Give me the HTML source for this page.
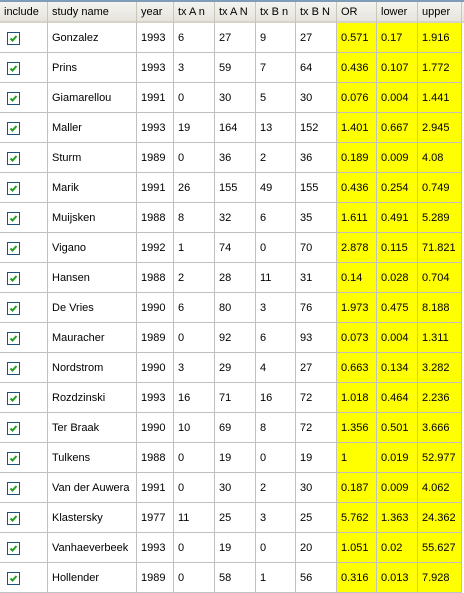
<!DOCTYPE html>
<html><head><meta charset="utf-8"><style>
html,body{margin:0;padding:0;width:464px;height:587px;overflow:hidden;background:#fff;font-family:"Liberation Sans","DejaVu Sans",sans-serif;font-size:11px;color:#000}
#wrap{position:absolute;left:0;top:0;width:464px;height:587px}
.topline{position:absolute;left:0;top:0;width:464px;height:2px;background:#7f9db9}
.hdr{position:absolute;top:2px;height:21px;background:linear-gradient(#f4f4f0,#e6e4dc);border-bottom:2px solid #d6d3c8;box-sizing:border-box}
.hc{position:absolute;top:2px;height:21px;line-height:21px;padding-left:4px;box-sizing:border-box;border-right:1px solid #c9c6ba;white-space:nowrap;overflow:hidden}
.cell{position:absolute;height:30px;line-height:31px;padding-left:4px;box-sizing:border-box;border-right:1px solid #c0c0c0;border-bottom:1px solid #c0c0c0;white-space:nowrap;overflow:hidden}
.y{background:#ffff00}
.cb{position:absolute;width:13px;height:13px;box-sizing:border-box;border:1px solid #1c5180;background:#fff}
.cb svg{position:absolute;left:1px;top:1px}
</style></head><body>
<div id="wrap">
<div class="topline"></div>
<div class="hdr" style="left:0;width:464px"></div>
<div id="grid"></div>
</div>
<script>
const headers=["include","study name","year","tx A n","tx A N","tx B n","tx B N","OR","lower","upper"];
const colX=[0,48,137,174,215,256,296,337,377,418,462];
const studies=["Gonzalez","Prins","Giamarellou","Maller","Sturm","Marik","Muijsken","Vigano","Hansen","De Vries","Mauracher","Nordstrom","Rozdzinski","Ter Braak","Tulkens","Van der Auwera","Klastersky","Vanhaeverbeek","Hollender"];
const years=[1993,1993,1991,1993,1989,1991,1988,1992,1988,1990,1989,1990,1993,1990,1988,1991,1977,1993,1989];
const txAn=[6,3,0,19,0,26,8,1,2,6,0,3,16,10,0,0,11,0,0];
const txAN=[27,59,30,164,36,155,32,74,28,80,92,29,71,69,19,30,25,19,58];
const txBn=[9,7,5,13,2,49,6,0,11,3,6,4,16,8,0,2,3,0,1];
const txBN=[27,64,30,152,36,155,35,70,31,76,93,27,72,72,19,30,25,20,56];
const orv=["0.571","0.436","0.076","1.401","0.189","0.436","1.611","2.878","0.14","1.973","0.073","0.663","1.018","1.356","1","0.187","5.762","1.051","0.316"];
const lower=["0.17","0.107","0.004","0.667","0.009","0.254","0.491","0.115","0.028","0.475","0.004","0.134","0.464","0.501","0.019","0.009","1.363","0.02","0.013"];
const upper=["1.916","1.772","1.441","2.945","4.08","0.749","5.289","71.821","0.704","8.188","1.311","3.282","2.236","3.666","52.977","4.062","24.362","55.627","7.928"];
const wrap=document.getElementById('wrap');
const hdrNames=["include-header","study-name-header","year-header","tx-a-n-header","tx-a-total-header","tx-b-n-header","tx-b-total-header","or-header","lower-header","upper-header"];
headers.forEach((h,i)=>{
  const d=document.createElement('div');
  d.className='hc';
  d.style.left=colX[i]+'px';d.style.width=(colX[i+1]-colX[i])+'px';
  d.textContent=h;
  
  
  wrap.appendChild(d);
});
const colNames=["include","study-name","year","tx-a-n","tx-a-total","tx-b-n","tx-b-total","or","lower","upper"];
studies.forEach((s,r)=>{
  const top=23+r*30;
  const vals=[null,s,years[r],txAn[r],txAN[r],txBn[r],txBN[r],orv[r],lower[r],upper[r]];
  vals.forEach((v,i)=>{
    const d=document.createElement('div');
    d.className='cell'+(i>=7?' y':'');
    d.style.left=colX[i]+'px';d.style.top=top+'px';d.style.width=(colX[i+1]-colX[i])+'px';
    
    
    if(v!==null)d.textContent=v;
    wrap.appendChild(d);
  });
  const cb=document.createElement('div');
  cb.className='cb';
  cb.style.left='7px';cb.style.top=(top+9)+'px';
  cb.innerHTML='<svg width="9" height="9" viewBox="0 0 9 9"><path d="M1.5 4.5 L3.5 6.5 L7.5 2" stroke="#21a121" stroke-width="2" fill="none"/></svg>';
  
  
  wrap.appendChild(cb);
});
</script>
</body></html>
